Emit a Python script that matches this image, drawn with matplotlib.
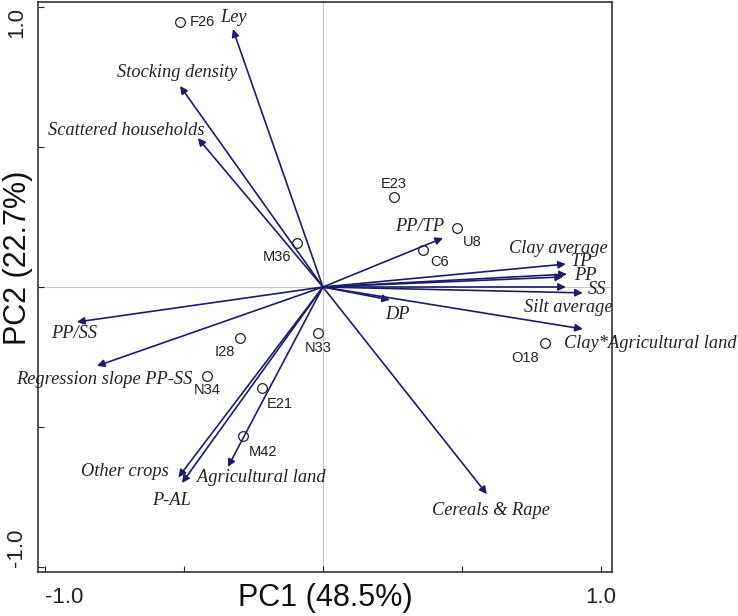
import matplotlib.pyplot as plt

# variable loadings (arrow tips)
variables = ["Ley", "Stocking density", "Scattered households", "PP/TP",
             "Clay average", "TP", "PP", "SS", "Silt average", "DP",
             "Clay*Agricultural land", "Cereals & Rape", "PP/SS",
             "Regression slope PP-SS", "Other crops", "Agricultural land", "P-AL"]
var_pc1 = [-0.324, -0.514, -0.45, 0.432, 0.874, 0.878, 0.864, 0.935, 0.874, 0.241,
           0.935, 0.59, -0.885, -0.813, -0.52, -0.342, -0.507]
var_pc2 = [0.921, 0.718, 0.532, 0.175, 0.082, 0.046, 0.036, -0.021, 0.0, -0.046,
           -0.15, -0.74, -0.125, -0.282, -0.68, -0.643, -0.70]

# site scores
sites = ["F26", "M36", "E23", "U8", "C6", "O18", "N33", "I28", "N34", "E21", "M42"]
site_pc1 = [-0.514, -0.094, 0.255, 0.482, 0.36, 0.80, -0.018, -0.30, -0.417, -0.22, -0.288]
site_pc2 = [0.946, 0.157, 0.321, 0.21, 0.132, -0.20, -0.164, -0.182, -0.318, -0.36, -0.532]

# label offsets in pixels (layout only)
var_off = [(1, 12), (-3, 13), (-72, 8), (-23, 12), (-8, 16), (15, 13), (22, 1),
           (14, 3), (2, -20), (8, -15), (67, -15), (4, -16), (-3, -12), (7, -14),
           (-53, 6), (33, -10), (-10, -18)]
site_off = [(22, 0), (-20, -14), (0, 13), (15, -14), (17, -12), (-20, -15),
            (0, -15), (-15, -14), (0, -14), (18, -16), (20, -16)]

navy = "#1c1c6b"

fig = plt.figure(figsize=(7.38, 6.16), dpi=100)
ax = fig.add_axes([38/738, 44/616, 574/738, 570/616])

ax.axvline(0, color="#c8c8c8", lw=0.8, zorder=0)
ax.axhline(0, color="#c8c8c8", lw=0.8, zorder=0)

for name, x, y, off in zip(variables, var_pc1, var_pc2, var_off):
    ax.annotate("", xy=(x, y), xytext=(0, 0),
                arrowprops=dict(arrowstyle="-|>", color=navy, lw=1.2,
                                mutation_scale=11, shrinkA=0, shrinkB=0))
    ax.annotate(name, xy=(x, y), xytext=off, textcoords="offset pixels",
                ha="center", va="center", fontsize=13.2, style="italic",
                family="Liberation Serif", color="#222222",
                annotation_clip=False)

ax.plot(site_pc1, site_pc2, "o", mfc="none", mec="#222222", ms=7, mew=0.9)
for name, x, y, off in zip(sites, site_pc1, site_pc2, site_off):
    ax.annotate(name, xy=(x, y), xytext=off, textcoords="offset pixels",
                ha="center", va="center", fontsize=10.5, family="Liberation Sans",
                color="#222222")

ax.set_xlim(-1.025, 1.04)
ax.set_ylim(-1.018, 1.018)
ax.set_xticks([-1, -0.5, 0, 0.5, 1])
ax.set_xticklabels(["-1.0", "", "", "", "1.0"])
ax.set_yticks([-1, -0.5, 0, 0.5, 1])
ax.set_yticklabels(["-1.0", "", "", "", "1.0"], rotation=90)
ax.tick_params(direction="in", length=4, labelsize=16, colors="#222222")
ax.tick_params(axis="x", pad=11)
ax.tick_params(axis="y", pad=8)
for lab in ax.get_xticklabels() + ax.get_yticklabels():
    lab.set_family("Liberation Sans")
ax.get_xticklabels()[0].set_ha("left")
ax.get_yticklabels()[0].set_va("bottom")
ax.get_yticklabels()[-1].set_va("top")
for s in ax.spines.values():
    s.set_color("#333333")
    s.set_linewidth(1.2)

fig.text(325/738, 1 - 598/616, "PC1 (48.5%)", ha="center", va="center",
         fontsize=22, family="Liberation Sans", color="#111111")
fig.text(18/738, 1 - 258/616, "PC2 (22.7%)", ha="center", va="center",
         rotation=90, fontsize=22, family="Liberation Sans", color="#111111")

fig.savefig("out.png", dpi=100)
